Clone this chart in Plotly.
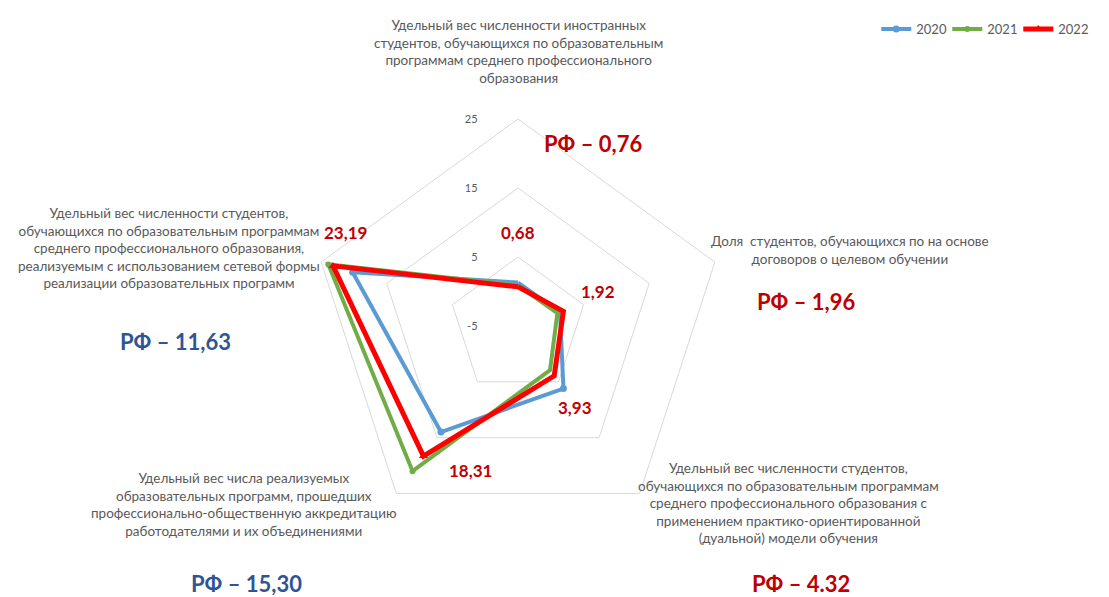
import plotly.graph_objects as go

categories = [
    "Удельный вес численности иностранных студентов, обучающихся по образовательным программам среднего профессионального образования",
    "Доля  студентов, обучающихся по на основе договоров о целевом обучении",
    "Удельный вес численности студентов, обучающихся по образовательным программам среднего профессионального образования с применением практико-ориентированной (дуальной) модели обучения",
    "Удельный вес числа реализуемых образовательных программ, прошедших профессионально-общественную аккредитацию работодателями и их объединениями",
    "Удельный вес численности студентов, обучающихся по образовательным программам среднего профессионального образования, реализуемым с использованием сетевой формы реализации образовательных программ",
]
cat_short = ["A1", "A2", "A3", "A4", "A5"]

years = ["2020", "2021", "2022"]
values_2020 = [1.3, 1.4, 6.2, 14.0, 20.2]
values_2021 = [0.9, 1.0, 2.9, 21.0, 23.9]
values_2022 = [0.68, 1.92, 3.93, 18.31, 23.19]

label_texts = ["0,68", "1,92", "3,93", "18,31", "23,19"]
rf_texts = ["РФ – 0,76", "РФ – 1,96", "РФ – 4.32", "РФ – 15,30", "РФ – 11,63"]

radial_ticks = [-5, 5, 15, 25]

cat_lines = [
    "Удельный вес численности иностранных<br>студентов, обучающихся по образовательным<br>программам среднего профессионального<br>образования",
    "Доля  студентов, обучающихся по на основе<br>договоров о целевом обучении",
    "Удельный вес численности студентов,<br>обучающихся по образовательным программам<br>среднего профессионального образования с<br>применением практико-ориентированной<br>(дуальной) модели обучения",
    "Удельный вес числа реализуемых<br>образовательных программ, прошедших<br>профессионально-общественную аккредитацию<br>работодателями и их объединениями",
    "Удельный вес численности студентов,<br>обучающихся по образовательным программам<br>среднего профессионального образования,<br>реализуемым с использованием сетевой формы<br>реализации образовательных программ",
]

W, H = 1109, 597
FONT = "Lato"
GRAY = "#595959"
DARKRED = "#C00000"
DARKBLUE = "#2F5597"
PAD = "<span style='color:rgba(0,0,0,0)'>000000</span>"

fig = go.Figure()

series = [
    (years[0], values_2020, "#5B9BD5", 4, "circle", 7),
    (years[1], values_2021, "#70AD47", 4, "circle", 6),
    (years[2], values_2022, "#FF0000", 5, "triangle-up", 8),
]
for name, vals, color, lw, sym, ms in series:
    fig.add_trace(go.Scatterpolar(
        r=vals + [vals[0]],
        theta=cat_short + [cat_short[0]],
        mode="lines+markers",
        name=name,
        line=dict(color=color, width=lw),
        marker=dict(symbol=sym, size=ms, color=color),
    ))

cx, cy, R = 510, 318, 207
fig.update_layout(
    width=W, height=H,
    margin=dict(l=0, r=0, t=0, b=0, pad=0, autoexpand=False),
    paper_bgcolor="white",
    plot_bgcolor="white",
    font=dict(family=FONT, color=GRAY),
    polar=dict(
        domain=dict(x=[(cx - R) / W, (cx + R) / W], y=[(H - cy - R) / H, (H - cy + R) / H]),
        bgcolor="white",
        gridshape="linear",
        radialaxis=dict(
            range=[-5, 25], tickvals=radial_ticks,
            ticktext=[str(t) + PAD for t in radial_ticks],
            showline=False, ticks="",
            gridcolor="#D9D9D9", gridwidth=1, angle=90, side="counterclockwise",
            tickangle=90,
            tickfont=dict(size=11, color=GRAY, family=FONT),
        ),
        angularaxis=dict(
            rotation=90, direction="clockwise", showticklabels=False, ticks="",
            showgrid=False, showline=True, linecolor="#D9D9D9", linewidth=1,
        ),
    ),
    legend=dict(
        orientation="h", x=0.975, xanchor="right", y=0.99, yanchor="top",
        font=dict(size=13, color=GRAY, family=FONT),
        itemwidth=30, entrywidth=26, entrywidthmode="pixels",
    ),
)

def px(x, y):
    return x / W, 1 - y / H

def ann(text, x, y, size, color):
    ax, ay = px(x, y)
    fig.add_annotation(x=ax, y=ay, xref="paper", yref="paper", text=text,
                       xanchor="center", yanchor="middle",
                       showarrow=False, align="center",
                       font=dict(family=FONT, size=size, color=color))

DY = -8
# category labels
cat_pos = [(510, 52), (842, 250), (780, 503), (236, 504), (161, 248)]
for txt, (x, y) in zip(cat_lines, cat_pos):
    ann(txt, x, y + DY, 13.5, GRAY)

# value labels for 2022
val_pos = [(510, 233), (590, 291), (567, 407), (462, 470), (337, 233)]
for txt, (x, y) in zip(label_texts, val_pos):
    ann("<b>" + txt + "</b>", x, y + DY, 17, DARKRED)

# RF labels
rf_pos = [(585, 143), (798, 301), (793, 583), (238, 583), (167, 341)]
rf_cols = [DARKRED, DARKRED, DARKRED, DARKBLUE, DARKBLUE]
for txt, (x, y), c in zip(rf_texts, rf_pos, rf_cols):
    ann("<b>" + txt + "</b>", x, y + DY, 22, c)

fig.write_html("out.html")
